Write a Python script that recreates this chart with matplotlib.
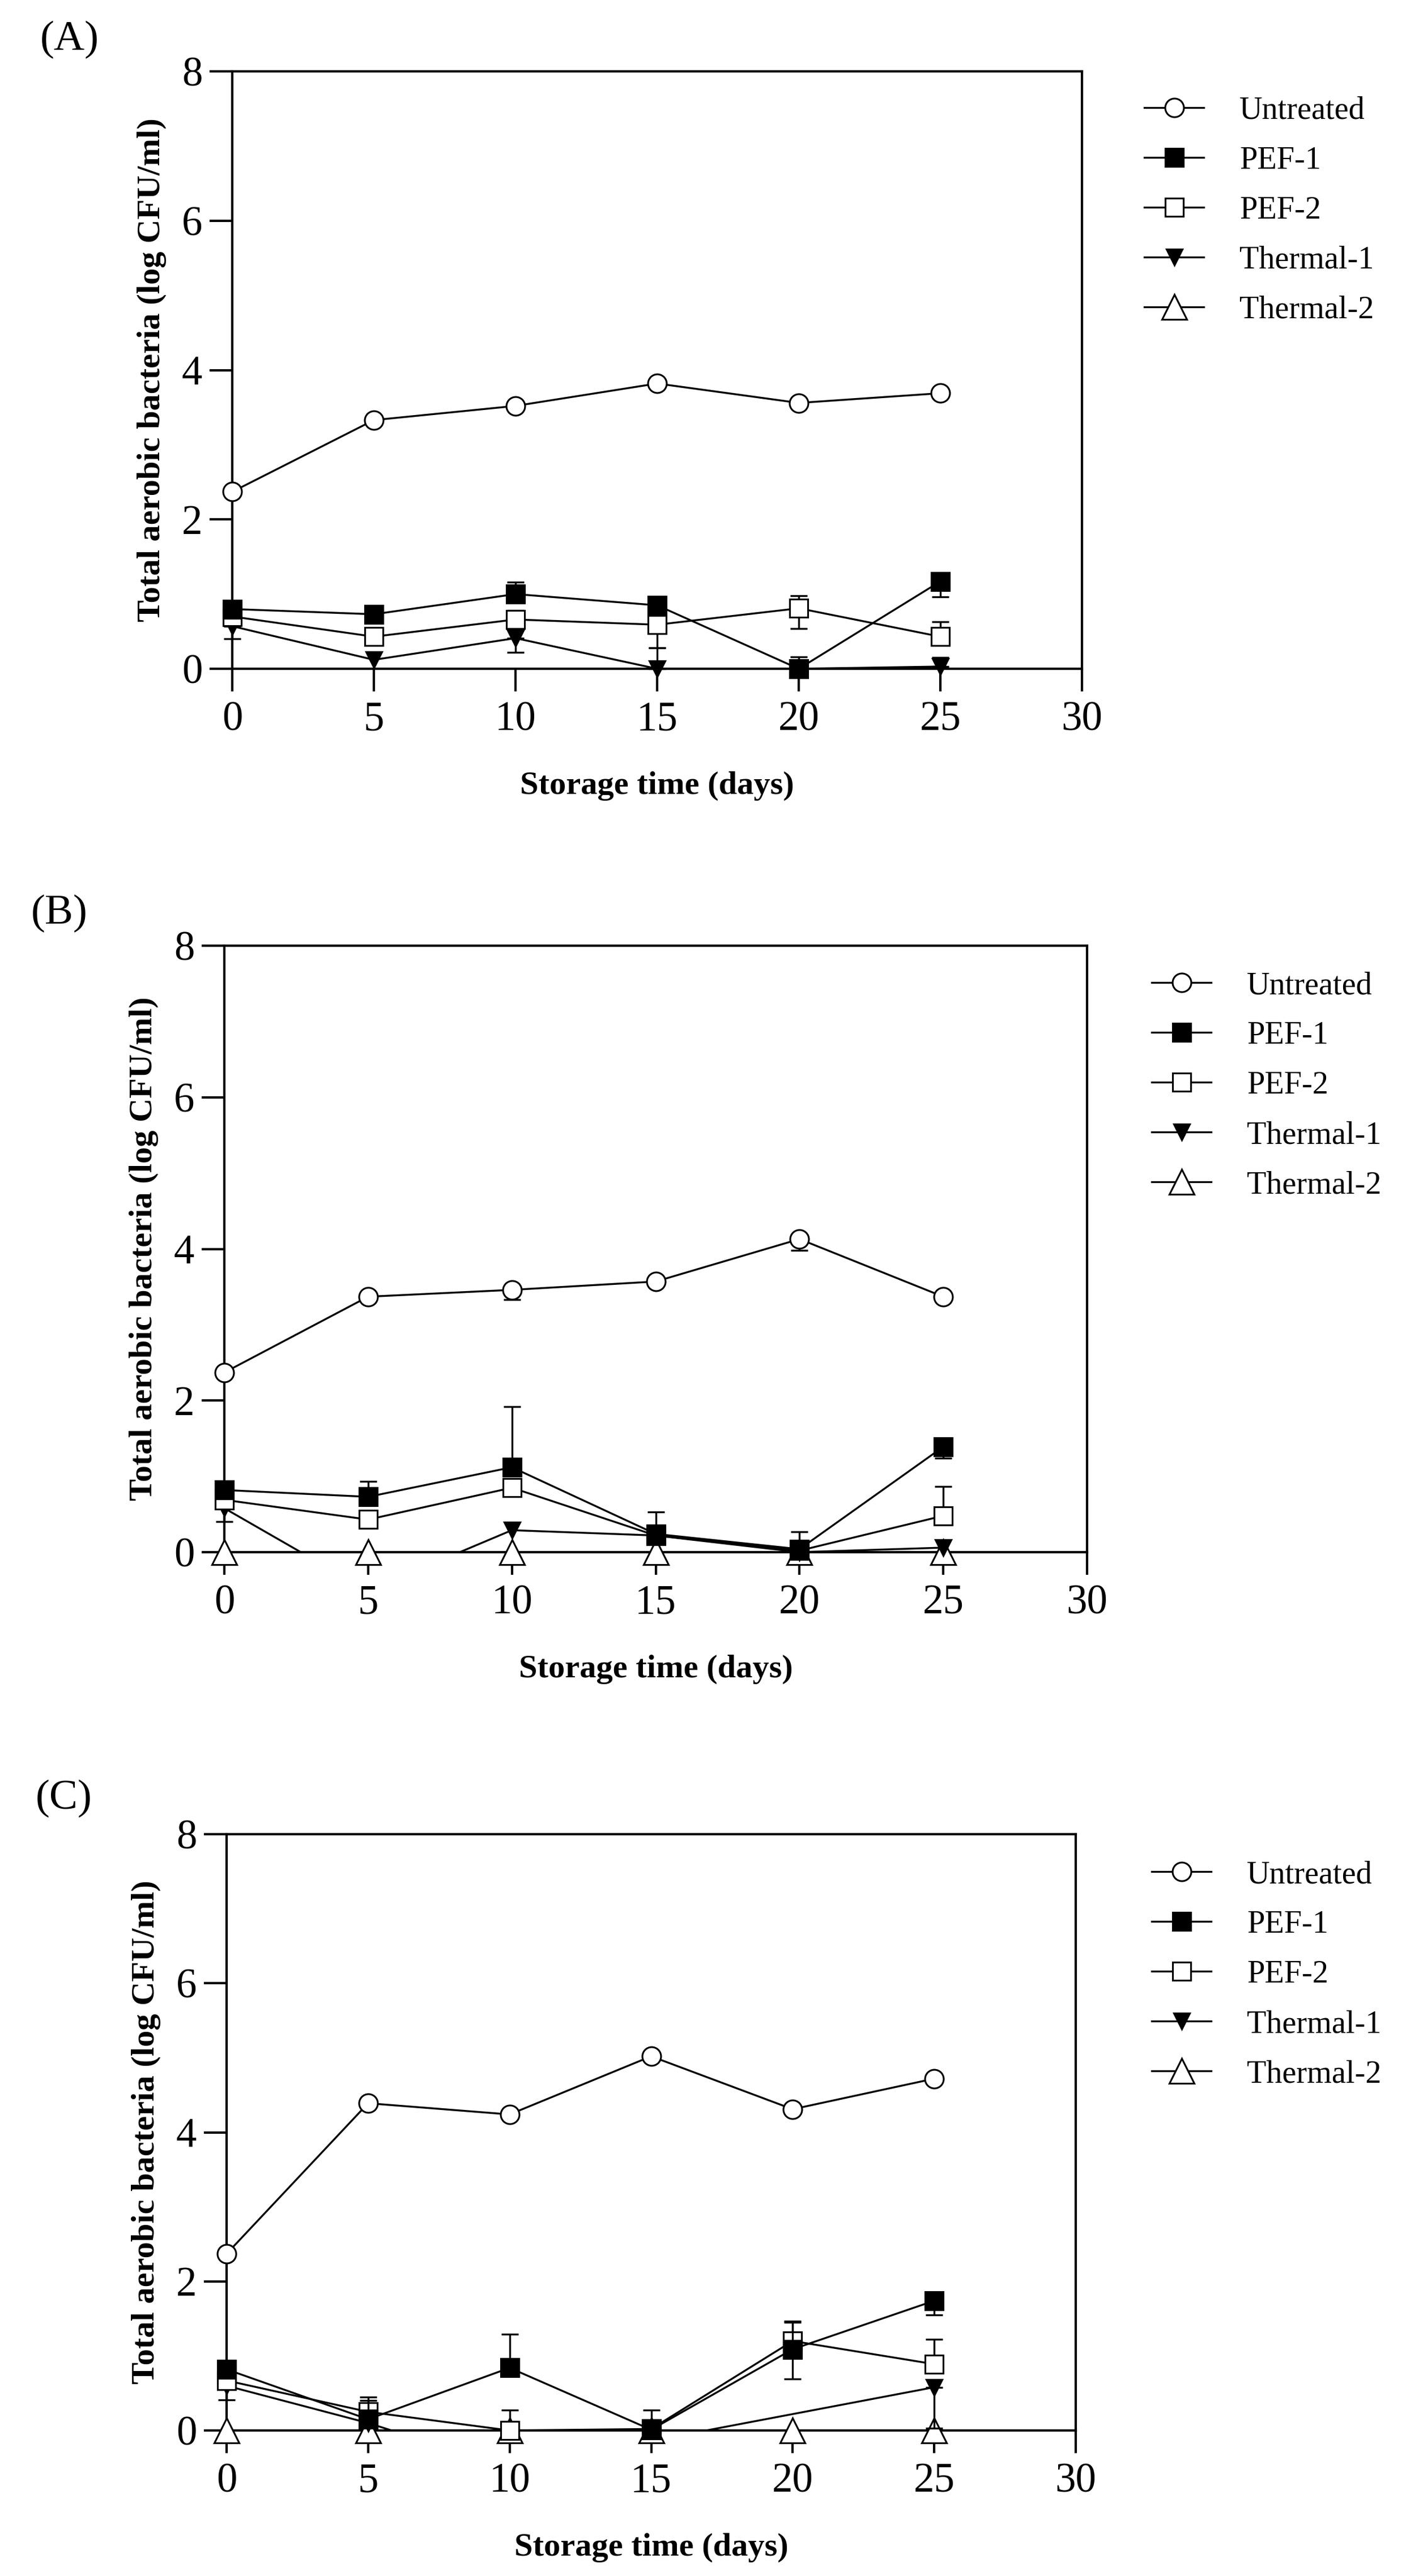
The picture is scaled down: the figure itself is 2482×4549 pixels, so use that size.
import numpy as np
import matplotlib
matplotlib.use("Agg")
import matplotlib.pyplot as plt
from matplotlib.lines import Line2D

plt.rcParams['font.family'] = ['Liberation Serif', 'DejaVu Serif']

W, H = 2482, 4549
DPI = 300

# ---------------- data ----------------
days = [0, 5, 10, 15, 20, 25]
series_names = ["Untreated", "PEF-1", "PEF-2", "Thermal-1", "Thermal-2"]
nan = np.nan

# Panel A
untreated_A = [2.37, 3.33, 3.52, 3.82, 3.56, 3.69]
pef1_A = [0.80, 0.73, 1.00, 0.85, 0.00, 1.17]
pef2_A = [0.70, 0.43, 0.66, 0.59, 0.81, 0.43]
thermal1_A = [0.57, 0.12, 0.41, 0.00, 0.00, 0.03]
thermal2_A = [nan, nan, nan, nan, nan, nan]

untreated_A_lo = [0, 0, 0, 0, 0, 0]
untreated_A_hi = [0, 0, 0, 0, 0, 0]
pef1_A_lo = [0, 0, 0, 0, 0, 0.21]
pef1_A_hi = [0, 0, 0.16, 0, 0.16, 0.10]
pef2_A_lo = [0, 0, 0, 0.31, 0.27, 0]
pef2_A_hi = [0, 0, 0.12, 0, 0.17, 0.20]
thermal1_A_lo = [0.17, 0, 0.19, 0, 0, 0]
thermal1_A_hi = [0, 0, 0, 0.28, 0, 0.12]
thermal2_A_lo = [0, 0, 0, 0, 0, 0]
thermal2_A_hi = [0, 0, 0, 0, 0, 0]

# Panel B
untreated_B = [2.37, 3.37, 3.46, 3.57, 4.13, 3.37]
pef1_B = [0.82, 0.73, 1.12, 0.24, 0.04, 1.39]
pef2_B = [0.69, 0.43, 0.85, 0.22, 0.02, 0.48]
thermal1_B = [0.58, -0.51, 0.29, 0.22, 0.00, 0.06]
thermal2_B = [0, 0, 0, 0, 0, 0]

untreated_B_lo = [0, 0, 0.13, 0, 0.15, 0]
untreated_B_hi = [0, 0, 0, 0, 0, 0]
pef1_B_lo = [0, 0, 0, 0, 0, 0.15]
pef1_B_hi = [0, 0.20, 0.80, 0.29, 0.23, 0]
pef2_B_lo = [0, 0, 0, 0, 0, 0]
pef2_B_hi = [0, 0, 0, 0, 0, 0.39]
thermal1_B_lo = [0.18, 0, 0, 0, 0, 0]
thermal1_B_hi = [0, 0, 0, 0, 0, 0]
thermal2_B_lo = [0, 0, 0, 0, 0, 0]
thermal2_B_hi = [0, 0, 0, 0, 0, 0]

# Panel C
untreated_C = [2.37, 4.39, 4.24, 5.02, 4.31, 4.72]
pef1_C = [0.82, 0.15, 0.84, 0.01, 1.09, 1.74]
pef2_C = [0.67, 0.25, 0.00, 0.02, 1.20, 0.89]
thermal1_C = [0.60, 0.10, -0.50, nan, nan, 0.58]
thermal2_C = [0, 0, 0, 0, 0, 0]

untreated_C_lo = [0, 0, 0, 0, 0, 0]
untreated_C_hi = [0, 0, 0, 0, 0, 0]
pef1_C_lo = [0, 0, 0, 0, 0.40, 0.19]
pef1_C_hi = [0, 0.25, 0.45, 0.26, 0.38, 0]
pef2_C_lo = [0, 0, 0, 0, 0, 0]
pef2_C_hi = [0, 0.20, 0.27, 0, 0.25, 0.33]
thermal1_C_lo = [0.19, 0, 0, 0, 0, 0.55]
thermal1_C_hi = [0, 0, 0, 0, 0, 0]
thermal2_C_lo = [0, 0, 0, 0, 0, 0]
thermal2_C_hi = [0, 0, 0, 0, 0, 0]

panel_labels = ["(A)", "(B)", "(C)"]
x_ticks = [0, 5, 10, 15, 20, 25, 30]
y_ticks = [0, 2, 4, 6, 8]
xlabel = "Storage time (days)"
ylabel = "Total aerobic bacteria (log CFU/ml)"

panels = [
    dict(values=[untreated_A, pef1_A, pef2_A, thermal1_A, thermal2_A],
         lo=[untreated_A_lo, pef1_A_lo, pef2_A_lo, thermal1_A_lo, thermal2_A_lo],
         hi=[untreated_A_hi, pef1_A_hi, pef2_A_hi, thermal1_A_hi, thermal2_A_hi]),
    dict(values=[untreated_B, pef1_B, pef2_B, thermal1_B, thermal2_B],
         lo=[untreated_B_lo, pef1_B_lo, pef2_B_lo, thermal1_B_lo, thermal2_B_lo],
         hi=[untreated_B_hi, pef1_B_hi, pef2_B_hi, thermal1_B_hi, thermal2_B_hi]),
    dict(values=[untreated_C, pef1_C, pef2_C, thermal1_C, thermal2_C],
         lo=[untreated_C_lo, pef1_C_lo, pef2_C_lo, thermal1_C_lo, thermal2_C_lo],
         hi=[untreated_C_hi, pef1_C_hi, pef2_C_hi, thermal1_C_hi, thermal2_C_hi]),
]

# ---------------- layout (pixels) ----------------
axes_px = [  # left, right, top, bottom
    (410, 1910, 126, 1181),
    (396, 1919, 1670, 2741),
    (400, 1899, 3239, 4292),
]
label_px = [(71, 70), (55, 1613), (63, 3176)]
legend_px = [(2020, 170), (2033, 1715), (2033, 3285)]

styles = [
    dict(marker='o', ms=7.9, mfc='white'),
    dict(marker='s', ms=7.7, mfc='black'),
    dict(marker='s', ms=7.7, mfc='white'),
    dict(marker='v', ms=6.8, mfc='black'),
    dict(marker='^', ms=10.5, mfc='white'),
]

LW = 0.8
MEW = 0.75
fig = plt.figure(figsize=(W / DPI, H / DPI), dpi=DPI)


def fx(px):
    return px / W


def fy(py):
    return 1 - py / H


for p, (l, r, t, b), (lx, ly), (gx, gy), plab in zip(panels, axes_px, label_px, legend_px, panel_labels):
    ax = fig.add_axes([fx(l), fy(b), fx(r) - fx(l), fy(t) - fy(b)])
    x = np.array(days, dtype=float)
    for i, (vals, lo, hi, st) in enumerate(zip(p['values'], p['lo'], p['hi'], styles)):
        y = np.array(vals, dtype=float)
        z = 20 - 3 * i
        lo = np.array(lo, dtype=float)
        hi = np.array(hi, dtype=float)
        m = ~np.isnan(y)
        # error bars
        em = m & ((lo > 0) | (hi > 0))
        if em.any():
            ax.errorbar(x[em], y[em], yerr=[lo[em], hi[em]], fmt='none', ecolor='black',
                        elinewidth=LW, capsize=3.5, capthick=LW, zorder=z, clip_on=False)
        # connecting line (connects across missing points, clipped to axes)
        ax.plot(x[m], y[m], color='black', lw=LW, zorder=z + 0.5)
        # markers for points inside the range
        ym = np.where(y >= 0, y, np.nan)
        ax.plot(x, ym, linestyle='none', marker=st['marker'], ms=st['ms'],
                mfc=st['mfc'], mec='black', mew=MEW, zorder=z + 1, clip_on=False)

    ax.set_xlim(0, 30)
    ax.set_ylim(0, 8)
    ax.set_xticks(x_ticks)
    ax.set_yticks(y_ticks)
    for s in ax.spines.values():
        s.set_linewidth(1.0)
    ax.tick_params(direction='out', length=9.6, width=1.0, labelsize=17.5)
    ax.tick_params(axis='y', pad=3)
    ax.tick_params(axis='x', pad=4)

    # axis labels
    fig.text(fx(l - 142), fy((t + b) / 2), ylabel, rotation=90, ha='center', va='center',
             fontsize=14, fontweight='bold')
    fig.text(fx((l + r) / 2), fy(b + 221), xlabel, ha='center', va='baseline',
             fontsize=14, fontweight='bold')
    fig.text(fx(lx), fy(ly), plab, ha='left', va='center', fontsize=18)

    handles = [Line2D([0], [0], color='black', lw=LW, marker=st['marker'], ms=st['ms'],
                      mfc=st['mfc'], mec='black', mew=MEW) for st in styles]
    ax.legend(handles, series_names, loc='upper left', bbox_to_anchor=(fx(gx), fy(gy)),
              bbox_transform=fig.transFigure, frameon=False, borderpad=0, borderaxespad=0,
              handlelength=1.87, handletextpad=1.12, labelspacing=0.64, fontsize=13.5,
              numpoints=1)

fig.savefig("out.png", dpi=DPI)
